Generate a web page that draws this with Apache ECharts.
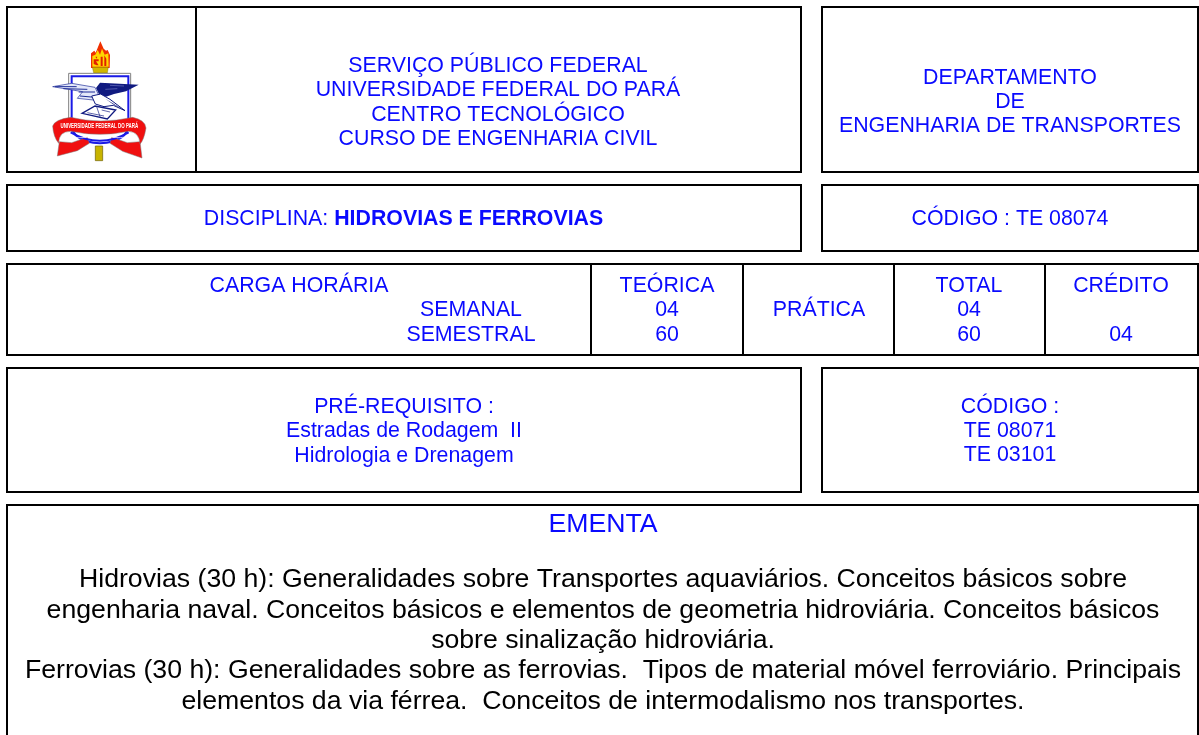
<!DOCTYPE html>
<html>
<head>
<meta charset="utf-8">
<style>html,body{margin:0;padding:0;background:#fff}#main{width:1199px;height:735px}</style>
<script src="https://cdn.jsdelivr.net/npm/echarts@6/dist/echarts.min.js"></script>
</head>
<body>
<div id="main"></div>
<script>
// textos da ficha
const headerLines = ['SERVIÇO PÚBLICO FEDERAL', 'UNIVERSIDADE FEDERAL DO PARÁ', 'CENTRO TECNOLÓGICO', 'CURSO DE ENGENHARIA CIVIL']
const deptLines = ['DEPARTAMENTO', 'DE', 'ENGENHARIA DE TRANSPORTES']
const disciplinaLabel = 'DISCIPLINA: '
const disciplinaName = 'HIDROVIAS E FERROVIAS'
const codigoLine = 'CÓDIGO : TE 08074'
const cargaTitle = 'CARGA HORÁRIA'
const cargaRows = ['SEMANAL', 'SEMESTRAL']
const teorica = ['TEÓRICA', '04', '60']
const pratica = 'PRÁTICA'
const total = ['TOTAL', '04', '60']
const credito = ['CRÉDITO', '', '04']
const preReqLines = ['PRÉ-REQUISITO :', 'Estradas de Rodagem  II', 'Hidrologia e Drenagem']
const preReqCodes = ['CÓDIGO :', 'TE 08071', 'TE 03101']
const ementaTitle = 'EMENTA'
const ementaLines = [
  'Hidrovias (30 h): Generalidades sobre Transportes aquaviários. Conceitos básicos sobre',
  'engenharia naval. Conceitos básicos e elementos de geometria hidroviária. Conceitos básicos',
  'sobre sinalização hidroviária.',
  'Ferrovias (30 h): Generalidades sobre as ferrovias.  Tipos de material móvel ferroviário. Principais',
  'elementos da via férrea.  Conceitos de intermodalismo nos transportes.'
]
const sealText = 'UNIVERSIDADE FEDERAL DO PARÁ'

const BLUE = '#0a0aff'
const NAVY = '#101a80'
const RED = '#f01010'
const FONT = '"Liberation Sans", Arial, sans-serif'
const SMALL = 21.33
const LARGE = 26.67

function box(x, y, w, h) {
  return { type: 'rect', shape: { x, y, width: w, height: h }, style: { fill: '#fff', stroke: '#000', lineWidth: 2 } }
}
function vline(x, y1, y2) {
  return { type: 'line', shape: { x1: x, y1, x2: x, y2 }, style: { stroke: '#000', lineWidth: 2 } }
}
function label(text, x, y, size, color) {
  return {
    type: 'text',
    style: { text, x, y, fill: color || BLUE, font: (size || SMALL) + 'px ' + FONT, textAlign: 'center', textVerticalAlign: 'middle' }
  }
}
function column(lines, x, ys) {
  return lines.map((t, i) => label(t, x, ys[i]))
}

// o componente graphic nao aceita type 'path', entao registra cada forma
let shapeCount = 0
function path(d, fill, stroke, lineWidth) {
  const name = 'seal' + shapeCount++
  echarts.graphic.registerShape(name, echarts.graphic.extendPath(d))
  return { type: name, style: { fill: fill, stroke: stroke || null, lineWidth: lineWidth || 0 } }
}

// brasao desenhado em coordenadas x3, depois reduzido no grupo
function seal() {
  return {
    type: 'group',
    scaleX: 1 / 3,
    scaleY: 1 / 3,
    children: [
      // haste
      path('M286 438 L308 438 L308 482 L286 482 Z', '#c8b400', '#6b5c00', 2),
      // chama
      path('M273 204 L273 160 L283 152 L287 158 L301 124 L311 146 L318 152 L323 150 L330 165 L329 204 Z', '#f03000'),
      path('M277 200 L277 168 L286 164 L293 150 L300 164 L306 146 L314 164 L325 160 L326 200 Z', '#ffd800'),
      path('M281 192 L281 178 L296 178 L296 184 L288 184 L296 196 L290 196 Z M302 198 L302 170 L308 170 L308 198 Z M313 198 L313 166 L319 176 L319 198 Z M286 170 L292 170 L290 176 Z', '#e02000'),
      // base da tocha
      path('M277 202 L325 202 L322 219 L281 219 Z', '#d2b800', '#6b5c00', 1),
      // escudo
      path('M206 220 L392 220 L392 360 Q392 420 300 428 Q206 420 206 360 Z', '#fff', '#808080', 3),
      path('M215 229 L385 229 L385 372 Q385 425 300 430 Q215 425 215 372 Z', '#fff', '#1a1ae6', 6),
      // asa esquerda
      path('M158 260 L215 250 L285 262 L296 285 L280 300 L232 295 L248 275 L205 268 Z', '#e4e8fa', '#1c2b96', 2),
      path('M165 260 L230 260 M190 266 L262 268 M236 276 L285 276 M240 288 L285 292', 'none', '#1c2b96', 3),
      // asa direita escura
      path('M288 264 L300 248 L330 250 L416 254 L378 274 L342 282 L318 290 L298 284 Z', NAVY),
      path('M330 256 L372 258 M316 268 L352 266', 'none', '#8f96d8', 1.5),
      // corpo e cauda
      path('M275 288 L302 282 L330 298 L375 332 L340 316 L312 320 L286 312 Z', '#fff', NAVY, 3),
      path('M316 296 L375 332 L338 312 Z', NAVY),
      // livro
      path('M246 340 L285 318 L347 330 L322 357 Z', '#fff', NAVY, 4),
      path('M290 320 L300 350 M262 338 L312 348 M305 330 L330 336', 'none', NAVY, 2),
      // pontas da fita
      path('M178 425 L215 428 L262 412 L268 430 L232 452 L172 468 Z', RED, '#7a7a7a', 1.5),
      path('M420 425 L382 428 L335 412 L330 430 L368 454 L426 474 Z', RED, '#7a7a7a', 1.5),
      // fita
      path('M158 378 Q165 358 212 352 Q300 374 398 352 Q436 360 438 384 Q432 420 420 432 Q418 396 386 394 Q300 412 212 394 Q176 394 176 430 Q160 410 158 378 Z', RED, '#7a7a7a', 1.5),
      // arco azul e branco
      path('M212 397 Q300 448 386 397', 'none', '#1a1ae6', 6),
      path('M186 404 Q240 420 280 408', 'none', '#fff', 2),
      path('M404 404 Q360 420 320 408', 'none', '#fff', 2),
      {
        type: 'text',
        style: { text: sealText, x: 298, y: 377, fill: '#fff', font: 'bold 24px ' + FONT, textAlign: 'center', textVerticalAlign: 'middle' },
        scaleX: 0.56,
        originX: 298,
        originY: 377
      }
    ]
  }
}

const elements = [
  box(7, 7, 794, 165), vline(196, 7, 172), box(822, 7, 376, 165),
  box(7, 185, 794, 66), box(822, 185, 376, 66),
  box(7, 264, 1191, 91), vline(591, 264, 355), vline(743, 264, 355), vline(894, 264, 355), vline(1045, 264, 355),
  box(7, 368, 794, 124), box(822, 368, 376, 124),
  box(7, 505, 1191, 240),
  seal(),
  ...column(headerLines, 498, [66, 90.5, 115, 139.5]),
  ...column(deptLines, 1010, [78, 102.5, 126]),
  {
    type: 'text',
    style: {
      text: '{n|' + disciplinaLabel + '}{b|' + disciplinaName + '}',
      x: 403.5, y: 219,
      textAlign: 'center', textVerticalAlign: 'middle',
      rich: {
        n: { fill: BLUE, font: SMALL + 'px ' + FONT },
        b: { fill: BLUE, font: 'bold ' + SMALL + 'px ' + FONT }
      }
    }
  },
  label(codigoLine, 1010, 219),
  label(cargaTitle, 299, 286),
  ...column(cargaRows, 471, [310.5, 335]),
  ...column(teorica, 667, [286, 310.5, 335]),
  label(pratica, 819, 310.5),
  ...column(total, 969, [286, 310.5, 335]),
  ...column(credito, 1121, [286, 310.5, 335]),
  ...column(preReqLines, 404, [407, 431.5, 456]),
  ...column(preReqCodes, 1010, [407, 431.5, 455]),
  label(ementaTitle, 603, 525, LARGE),
  ...ementaLines.map((t, i) => label(t, 603, [579.5, 610.5, 641, 670.5, 701.5][i], LARGE, '#000'))
]

const myChart = echarts.init(document.getElementById('main'), null, { renderer: 'canvas' })
myChart.setOption({
  animation: false,
  backgroundColor: '#fff',
  graphic: { elements }
})
</script>
</body>
</html>
